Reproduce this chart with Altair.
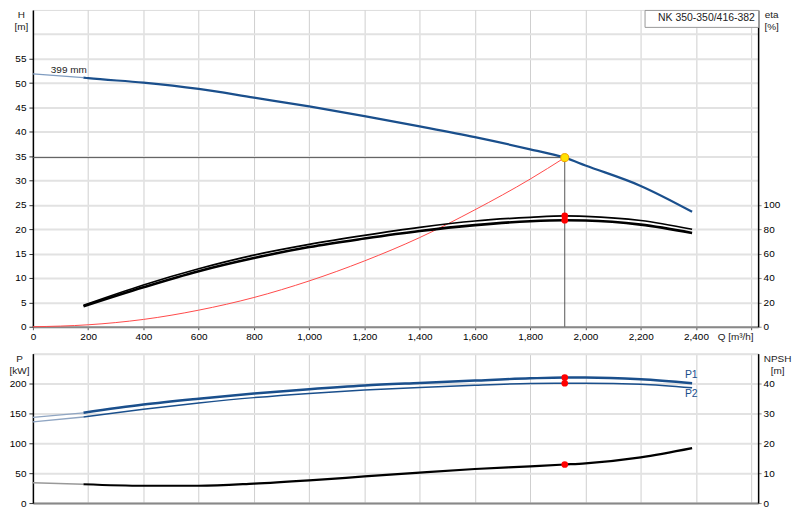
import altair as alt
import pandas as pd

# ---------------- data ----------------
MODEL = "NK 350-350/416-382"
IMPELLER_LABEL = "399 mm"
IMPELLER_LABEL_Q = 130
IMPELLER_LABEL_H = 52.7

# Head curve (extrapolated thin part + main part)
q_h_ext = [0, 183]
h_ext = [51.9, 51.1]
q_h = [183, 200, 400, 600, 800, 1000, 1200, 1400, 1600, 1800, 1925, 2000, 2200, 2386]
h_vals = [51.1, 51.0, 50.1, 48.8, 47.0, 45.2, 43.2, 41.1, 38.9, 36.4, 34.7, 33.1, 28.9, 23.6]

# System curve
q_sys = [0, 200, 400, 600, 800, 1000, 1200, 1400, 1600, 1800, 1925]
h_sys = [0, 0.4, 1.5, 3.4, 6.0, 9.4, 13.5, 18.3, 24.0, 30.3, 34.7]

# Efficiency curves [%]
q_eta = [183, 400, 600, 800, 1000, 1200, 1400, 1600, 1800, 1925, 2000, 2200, 2386]
eta_upper = [17.6, 34.3, 47.6, 58.8, 67.6, 75.0, 81.6, 86.8, 89.8, 91.0, 90.6, 87.2, 80.0]
eta_lower = [16.8, 32.4, 45.6, 56.4, 65.4, 72.4, 78.6, 83.4, 86.6, 87.4, 87.2, 83.8, 77.0]

# Power curves [kW]
q_p_ext = [0, 183]
p1_ext = [143.3, 151.0]
p2_ext = [136.0, 144.0]
q_p = [183, 400, 600, 800, 1000, 1200, 1400, 1600, 1800, 1925, 2000, 2200, 2386]
p1_vals = [151.0, 164.8, 174.7, 183.5, 190.6, 196.7, 201.0, 205.0, 208.7, 210.0, 210.0, 207.0, 200.5]
p2_vals = [144.0, 157.0, 167.4, 176.4, 183.5, 189.0, 193.5, 197.2, 200.0, 200.5, 200.5, 198.8, 192.8]

# NPSH curve [m]
q_n_ext = [0, 183]
npsh_ext = [6.8, 6.3]
q_n = [183, 400, 600, 800, 1000, 1200, 1400, 1600, 1800, 1925, 2000, 2200, 2386]
npsh_vals = [6.3, 5.8, 5.8, 6.5, 7.6, 8.9, 10.2, 11.4, 12.3, 12.9, 13.3, 15.3, 18.4]

# Duty point
duty_q = 1925
duty_h = 34.7
duty_eta = [91.0, 87.4]
duty_p = [210.0, 200.5]
duty_npsh = 12.9

# Curve labels in lower panel
p_label_text = ["P1", "P2"]
p_label_q = [2383, 2383]
p_label_p = [215, 182]

# ---------------- styling ----------------
W = 728
H1 = 318
H2 = 150
QMAX = 2625
FONT = "Liberation Sans"
BLUE = "#1a4f8c"
TXT = "#222222"

xs = alt.Scale(domain=[0, QMAX], nice=False, zero=False)
hs = alt.Scale(domain=[0, 65], nice=False)
es = alt.Scale(domain=[0, 260], nice=False)
ps = alt.Scale(domain=[0, 250], nice=False)
ns = alt.Scale(domain=[0, 50], nice=False)

q_ticks = list(range(0, 2601, 200))

common_title = dict(titleFont=FONT, titleFontSize=10, titleFontWeight=400, titleColor=TXT)

x_axis_top = alt.Axis(
    values=q_ticks,
    labelExpr="datum.value <= 2400 ? format(datum.value, ',') : ''",
    grid=True, gridColor="#cfcfcf", gridWidth=1,
    tickSize=3, tickColor="#555",
    domainColor="#888", domainWidth=2,
    labelFlush=False, labelOverlap=False, labelPadding=2,
    title="Q [m³/h]", titleX=W - 5, titleY=10,
    titleAlign="right", titleBaseline="middle", **common_title,
)
x_axis_bot = alt.Axis(
    values=q_ticks, labels=False, ticks=False,
    grid=True, gridColor="#cfcfcf", gridWidth=1,
    domainColor="#888", domainWidth=2, title=None,
)

h_axis = alt.Axis(
    orient="left", values=list(range(0, 61, 5)),
    labelExpr="datum.value <= 55 ? datum.label : ''",
    tickColor={"condition": {"test": "datum.value > 55", "value": "transparent"}, "value": "#333"},
    grid=True, gridColor="#e2e2e2", gridWidth=2,
    tickSize=4, labelPadding=3, domainColor="#000", domainWidth=1.5,
    title=["H", "[m]"], titleAngle=0, titleX=-12, titleY=0,
    titleAlign="center", titleBaseline="top", titleLineHeight=12, **common_title,
)
eta_axis = alt.Axis(
    orient="right", values=[0, 20, 40, 60, 80, 100], grid=False,
    tickSize=3, labelPadding=2, domainColor="#000", domainWidth=1.5,
    title=["eta", "[%]"], titleAngle=0, titleX=13, titleY=0,
    titleAlign="center", titleBaseline="top", titleLineHeight=12, **common_title,
)
p_axis = alt.Axis(
    orient="left", values=[0, 50, 100, 150, 200, 250],
    labelExpr="datum.value <= 200 ? datum.label : ''",
    tickColor={"condition": {"test": "datum.value > 200", "value": "transparent"}, "value": "#333"},
    grid=True, gridColor="#e2e2e2", gridWidth=2,
    tickSize=4, labelPadding=3, domainColor="#000", domainWidth=1.5,
    title=["P", "[kW]"], titleAngle=0, titleX=-14, titleY=0,
    titleAlign="center", titleBaseline="top", titleLineHeight=12, **common_title,
)
n_axis = alt.Axis(
    orient="right", values=[0, 10, 20, 30, 40], grid=False,
    tickSize=3, labelPadding=2, domainColor="#000", domainWidth=1.5,
    title=["NPSH", "[m]"], titleAngle=0, titleX=19, titleY=0,
    titleAlign="center", titleBaseline="top", titleLineHeight=12, **common_title,
)


def X(axis):
    return alt.X("Q:Q", scale=xs, axis=axis)


# ---------------- top panel ----------------
df_h_ext = pd.DataFrame({"Q": q_h_ext, "v": h_ext})
df_h = pd.DataFrame({"Q": q_h, "v": h_vals, "model": [MODEL] * len(q_h)})
df_sys = pd.DataFrame({"Q": q_sys, "v": h_sys})
df_eu = pd.DataFrame({"Q": q_eta, "v": eta_upper})
df_el = pd.DataFrame({"Q": q_eta, "v": eta_lower})
df_duty = pd.DataFrame({"Q": [duty_q], "Q0": [0], "v": [duty_h], "v0": [0]})
df_duty_eta = pd.DataFrame({"Q": [duty_q] * len(duty_eta), "v": duty_eta})
df_lbl = pd.DataFrame({"Q": [IMPELLER_LABEL_Q], "v": [IMPELLER_LABEL_H], "t": [IMPELLER_LABEL]})

grid_layer = alt.Chart(df_h).mark_line(opacity=0).encode(
    x=X(x_axis_top), y=alt.Y("v:Q", scale=hs, axis=h_axis)
)
duty_h_line = alt.Chart(df_duty).mark_rule(color="#555", strokeWidth=1).encode(
    x=X(x_axis_top), x2="Q0:Q", y=alt.Y("v:Q", scale=hs, axis=None)
)
duty_v_line = alt.Chart(df_duty).mark_rule(color="#555", strokeWidth=1).encode(
    x=X(x_axis_top), y=alt.Y("v:Q", scale=hs, axis=None), y2="v0:Q"
)
sys_line = alt.Chart(df_sys).mark_line(color="#ff4a4a", strokeWidth=1, interpolate="monotone").encode(
    x=X(x_axis_top), y=alt.Y("v:Q", scale=hs, axis=None)
)
h_ext_line = alt.Chart(df_h_ext).mark_line(color="#7f9cc0", strokeWidth=1.2).encode(
    x=X(x_axis_top), y=alt.Y("v:Q", scale=hs, axis=None)
)
h_line = alt.Chart(df_h).mark_line(strokeWidth=2.2, interpolate="monotone").encode(
    x=X(x_axis_top), y=alt.Y("v:Q", scale=hs, axis=None),
    color=alt.Color(
        "model:N", scale=alt.Scale(range=[BLUE]),
        legend=alt.Legend(
            orient="top-right", offset=0, title=None, padding=3,
            symbolSize=0, symbolOpacity=0, symbolStrokeWidth=0, labelOffset=0,
            strokeColor="#999", fillColor="white",
            labelFont=FONT, labelFontSize=10.5, labelColor=TXT, labelLimit=0,
        ),
    ),
)
eta_u_line = alt.Chart(df_eu).mark_line(color="#000", strokeWidth=1.7, interpolate="monotone").encode(
    x=X(x_axis_top), y=alt.Y("v:Q", scale=es, axis=eta_axis)
)
eta_l_line = alt.Chart(df_el).mark_line(color="#000", strokeWidth=2.6, interpolate="monotone").encode(
    x=X(x_axis_top), y=alt.Y("v:Q", scale=es, axis=None)
)
eta_dots = alt.Chart(df_duty_eta).mark_circle(color="red", size=45, opacity=1).encode(
    x=X(x_axis_top), y=alt.Y("v:Q", scale=es, axis=None)
)
duty_pt = alt.Chart(df_duty).mark_point(
    shape="circle", filled=True, fill="#ffe200", stroke="#f0a000", strokeWidth=1, size=65, opacity=1
).encode(x=X(x_axis_top), y=alt.Y("v:Q", scale=hs, axis=None))
lbl = alt.Chart(df_lbl).mark_text(font=FONT, fontSize=10, color=TXT, align="center", baseline="middle").encode(
    x=X(x_axis_top), y=alt.Y("v:Q", scale=hs, axis=None), text="t:N"
)

top = alt.layer(
    grid_layer, duty_h_line, duty_v_line, sys_line, h_ext_line, h_line,
    eta_u_line, eta_l_line, eta_dots, duty_pt, lbl,
).resolve_scale(y="independent").properties(width=W, height=H1)

# ---------------- bottom panel ----------------
df_p1_ext = pd.DataFrame({"Q": q_p_ext, "v": p1_ext})
df_p2_ext = pd.DataFrame({"Q": q_p_ext, "v": p2_ext})
df_p1 = pd.DataFrame({"Q": q_p, "v": p1_vals})
df_p2 = pd.DataFrame({"Q": q_p, "v": p2_vals})
df_n_ext = pd.DataFrame({"Q": q_n_ext, "v": npsh_ext})
df_n = pd.DataFrame({"Q": q_n, "v": npsh_vals})
df_duty_p = pd.DataFrame({"Q": [duty_q] * len(duty_p), "v": duty_p})
df_duty_n = pd.DataFrame({"Q": [duty_q], "v": [duty_npsh]})
df_plbl = pd.DataFrame({"Q": p_label_q, "v": p_label_p, "t": p_label_text})

p_grid = alt.Chart(df_p1).mark_line(opacity=0).encode(
    x=X(x_axis_bot), y=alt.Y("v:Q", scale=ps, axis=p_axis)
)
p1_ext_line = alt.Chart(df_p1_ext).mark_line(color="#8fa5c2", strokeWidth=1.3).encode(
    x=X(x_axis_bot), y=alt.Y("v:Q", scale=ps, axis=None)
)
p2_ext_line = alt.Chart(df_p2_ext).mark_line(color="#8fa5c2", strokeWidth=1.3).encode(
    x=X(x_axis_bot), y=alt.Y("v:Q", scale=ps, axis=None)
)
p1_line = alt.Chart(df_p1).mark_line(color=BLUE, strokeWidth=2.5, interpolate="monotone").encode(
    x=X(x_axis_bot), y=alt.Y("v:Q", scale=ps, axis=None)
)
p2_line = alt.Chart(df_p2).mark_line(color=BLUE, strokeWidth=1.5, interpolate="monotone").encode(
    x=X(x_axis_bot), y=alt.Y("v:Q", scale=ps, axis=None)
)
p_dots = alt.Chart(df_duty_p).mark_circle(color="red", size=45, opacity=1).encode(
    x=X(x_axis_bot), y=alt.Y("v:Q", scale=ps, axis=None)
)
p_lbls = alt.Chart(df_plbl).mark_text(font=FONT, fontSize=10.5, color=BLUE, align="center", baseline="middle").encode(
    x=X(x_axis_bot), y=alt.Y("v:Q", scale=ps, axis=None), text="t:N"
)
n_ext_line = alt.Chart(df_n_ext).mark_line(color="#999", strokeWidth=1.3).encode(
    x=X(x_axis_bot), y=alt.Y("v:Q", scale=ns, axis=n_axis)
)
n_line = alt.Chart(df_n).mark_line(color="#000", strokeWidth=2.2, interpolate="monotone").encode(
    x=X(x_axis_bot), y=alt.Y("v:Q", scale=ns, axis=None)
)
n_dot = alt.Chart(df_duty_n).mark_circle(color="red", size=45, opacity=1).encode(
    x=X(x_axis_bot), y=alt.Y("v:Q", scale=ns, axis=None)
)

bottom = alt.layer(
    p_grid, p1_ext_line, p2_ext_line, p1_line, p2_line, p_dots, p_lbls,
    n_ext_line, n_line, n_dot,
).resolve_scale(y="independent").properties(width=W, height=H2)

chart = (
    alt.vconcat(top, bottom, spacing=10)
    .properties(padding=0)
    .configure_axis(
        labelFont=FONT, titleFont=FONT, labelFontSize=10.5, titleFontSize=10.5,
        titleFontWeight=400, labelColor=TXT, titleColor=TXT,
    )
    .configure_view(stroke="#999", strokeWidth=1)
    .configure(background="white")
)

chart.save("out.html", embed_options={"renderer": "svg", "actions": False})
